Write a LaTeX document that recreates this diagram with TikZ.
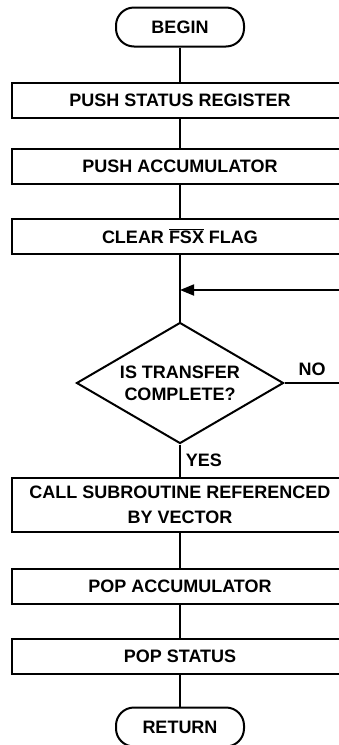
\documentclass[tikz,border=0pt]{standalone}
\usepackage{fontspec}
\setmainfont{Liberation Sans}
\usetikzlibrary{shapes.geometric,arrows.meta}
\begin{document}
\begin{tikzpicture}[
	x=1pt, y=-1pt,
	box/.style={
		draw, line width=2pt,
		minimum width=336pt, minimum height=35pt, inner sep=0pt,
		align=center, font=\fontsize{18}{25}\selectfont\bfseries
	},
	term/.style={
		draw, line width=2pt, rounded corners=18pt,
		minimum width=128pt, minimum height=39pt,
		font=\fontsize{18}{25}\selectfont\bfseries
	},
	dec/.style={
		draw, diamond, line width=2pt, aspect=1.7, inner sep=0pt,
		minimum width=207pt, minimum height=121pt,
		align=center, font=\fontsize{18}{22}\selectfont\bfseries
	},
	line/.style={line width=1.8pt},
	arr/.style={line width=1.8pt, -{Triangle[length=14pt,width=11pt]}},
	lbl/.style={font=\fontsize{18}{22}\selectfont\bfseries, inner sep=0pt}
]
\useasboundingbox (0,0) rectangle (338,745);

\node[term] (begin)   at (180, 27)  {BEGIN};
\node[box]  (pushsr)  at (180, 100) {PUSH STATUS REGISTER};
\node[box]  (pushacc) at (180, 166) {PUSH ACCUMULATOR};
\node[box]  (clrfsx)  at (180, 236) {CLEAR $\overline{\mbox{FSX}}$ FLAG};
\node[dec]  (done)    at (180, 383) {IS TRANSFER\\COMPLETE?};
\node[box, minimum height=54pt] (callsub) at (180, 505) {CALL SUBROUTINE REFERENCED\\BY VECTOR};
\node[box]  (popacc)  at (180, 586) {POP ACCUMULATOR};
\node[box]  (popst)   at (180, 656) {POP STATUS};
\node[term] (ret)     at (180, 727) {RETURN};

\coordinate (join) at (180, 290);
\coordinate (loop) at (352, 383);

\draw[line] (begin.south)   -- (pushsr.north);
\draw[line] (pushsr.south)  -- (pushacc.north);
\draw[line] (pushacc.south) -- (clrfsx.north);
\draw[line] (clrfsx.south)  -- (done.north);
\draw[line] (done.south) -- node[lbl, right=5pt, pos=0.5] {YES} (callsub.north);
\draw[line] (callsub.south) -- (popacc.north);
\draw[line] (popacc.south)  -- (popst.north);
\draw[line] (popst.south)   -- (ret.north);

\draw[arr] (done.east) -- node[lbl, above=6pt, pos=0.41] {NO} (loop) |- (join);

\end{tikzpicture}
\end{document}
